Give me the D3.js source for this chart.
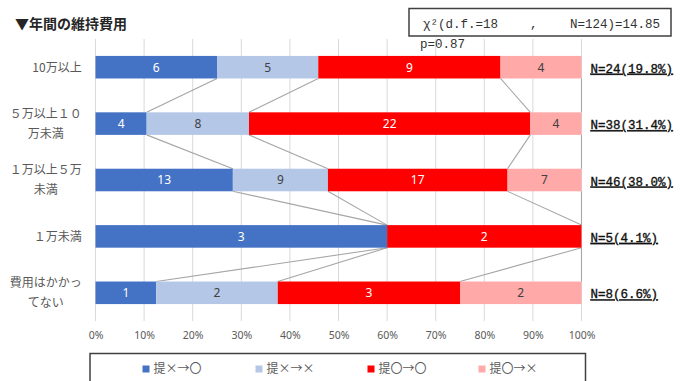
<!DOCTYPE html>
<html><head><meta charset="utf-8">
<script src="https://cdn.jsdelivr.net/npm/d3@7"></script>
<style>html,body{margin:0;padding:0;background:#fff;}svg{display:block;}</style>
</head><body>
<svg id="c" width="686" height="381"></svg>
<script>
const categories = ["10万以上","５万以上１０万未満","１万以上５万未満","１万未満","費用はかかってない"];
const seriesNames = ["提×→〇","提×→×","提〇→〇","提〇→×"];
const s1 = [6,4,13,3,1];
const s2 = [5,8,9,0,2];
const s3 = [9,22,17,2,3];
const s4 = [4,4,7,0,2];
const nLabels = ["N=24(19.8%)","N=38(31.4%)","N=46(38.0%)","N=5(4.1%)","N=8(6.6%)"];
const tickValues = [0,0.1,0.2,0.3,0.4,0.5,0.6,0.7,0.8,0.9,1];
const title = "▼年間の維持費用";
const statParts = ["χ²(d.f.=18", ",", "N=124)=14.85"];
const pText = "p=0.87";

const colors = ["#4472C4","#B4C7E7","#FF0000","#FFA9A9"];
const labelColors = ["#ffffff","#404040","#ffffff","#404040"];
const series = [s1,s2,s3,s4];

const svg = d3.select("#c");
const x = d3.scaleLinear().domain([0,1]).range([95.5,581.5]);
const y = d3.scaleBand().domain(categories).range([39,321]).paddingInner(0.6).paddingOuter(0.3);

const rows = categories.map((c,i)=>{
  const vals = series.map(s=>s[i]);
  const tot = d3.sum(vals);
  let acc=0;
  const segs = vals.map((v,k)=>{const a=acc/tot; acc+=v; return {k,v,x0:a,x1:acc/tot};});
  return {c,i,tot,segs};
});

// gridlines
svg.append("g").selectAll("line").data(tickValues).join("line")
  .attr("x1",d=>x(d)).attr("x2",d=>x(d)).attr("y1",39).attr("y2",321)
  .attr("stroke","#D9D9D9").attr("stroke-width",1);

// axis tick labels
const xAxis = d3.axisBottom(x).tickValues(tickValues).tickFormat(d3.format(".0%")).tickSize(0).tickPadding(0);
const ax = svg.append("g").attr("transform","translate(0,332)").call(xAxis);
ax.select(".domain").remove();
ax.selectAll("text").attr("fill","#595959").attr("font-family","'Noto Sans',sans-serif").attr("font-size","10.5px").attr("dy","0.71em");

// series lines
const bh = y.bandwidth();
const lineG = svg.append("g");
for(let i=0;i<rows.length-1;i++){
  for(let k=0;k<4;k++){
    lineG.append("line")
      .attr("x1",x(rows[i].segs[k].x1)).attr("y1",y(rows[i].c)+bh)
      .attr("x2",x(rows[i+1].segs[k].x1)).attr("y2",y(rows[i+1].c))
      .attr("stroke","#A6A6A6").attr("stroke-width",1.1);
  }
}

// bars
const barG = svg.append("g");
rows.forEach(r=>{
  r.segs.forEach(s=>{
    if(s.v===0) return;
    barG.append("rect").attr("x",x(s.x0)).attr("y",y(r.c))
      .attr("width",x(s.x1)-x(s.x0)).attr("height",bh).attr("fill",colors[s.k]);
    barG.append("text").attr("x",(x(s.x0)+x(s.x1))/2).attr("y",y(r.c)+bh/2)
      .attr("dy","0.36em").attr("text-anchor","middle")
      .attr("font-family","'Noto Sans',sans-serif").attr("font-size","12px")
      .attr("fill",labelColors[s.k]).text(s.v);
  });
});

// category labels
const catG = svg.append("g").attr("font-family","'Noto Sans CJK JP',sans-serif").attr("font-size","12px").attr("fill","#595959");
rows.forEach(r=>{
  const chars = Array.from(r.c);
  const lines = [];
  for(let j=0;j<chars.length;j+=6) lines.push(chars.slice(j,j+6).join(""));
  const cy = y(r.c)+bh/2;
  const t = catG.append("text").attr("text-anchor","middle");
  const tmp = lines.map(l=>{const e=catG.append("text").text(l); const w=e.node().getComputedTextLength(); e.remove(); return w;});
  const maxW = d3.max(tmp);
  const cx = 81.7 - maxW/2;
  lines.forEach((l,j)=>{
    t.append("tspan").attr("x",cx).attr("y",cy + (j-(lines.length-1)/2)*20).attr("dy","0.36em").text(l);
  });
});

// N labels
svg.append("g").selectAll("text").data(rows).join("text")
  .attr("x",590.5).attr("y",d=>y(d.c)+bh/2+1).attr("dy","0.36em")
  .attr("font-family","'Liberation Mono',monospace").attr("font-size","12.5px")
  .attr("fill","#111").attr("stroke","#111").attr("stroke-width",0.35).attr("text-decoration","underline")
  .text(d=>nLabels[d.i]);

// title
svg.append("text").attr("x",15).attr("y",29).attr("font-family","'Noto Sans CJK JP',sans-serif")
  .attr("font-size","14px").attr("font-weight","bold").attr("fill","#262626").text(title);

// stat box
svg.append("rect").attr("x",409).attr("y",8.5).attr("width",262).attr("height",27.5)
  .attr("fill","#fff").attr("stroke","#404040").attr("stroke-width",1.5);
const statX = [423,530,570];
statParts.forEach((p,i)=>{
  svg.append("text").attr("x",statX[i]).attr("y",28).attr("font-family","'Liberation Mono',monospace")
    .attr("font-size","12.5px").attr("fill","#333").text(p);
});
svg.append("text").attr("x",420).attr("y",47.5).attr("font-family","'Liberation Mono',monospace")
  .attr("font-size","12.5px").attr("fill","#333").text(pText);

// legend
svg.append("rect").attr("x",90).attr("y",353.5).attr("width",495.5).attr("height",40)
  .attr("fill","#fff").attr("stroke","#404040").attr("stroke-width",1.5);
const legX = [142.5,255.5,367.5,478.5];
const lg = svg.append("g").selectAll("g").data(seriesNames).join("g")
  .attr("transform",(d,i)=>`translate(${legX[i]},369)`);
lg.append("rect").attr("x",0).attr("y",-3.5).attr("width",7).attr("height",7).attr("fill",(d,i)=>colors[i]);
lg.append("text").attr("x",11).attr("y",0).attr("dy","0.36em")
  .attr("font-family","'Noto Sans CJK JP',sans-serif").attr("font-size","12px").attr("fill","#595959").text(d=>d);
</script>
</body></html>
